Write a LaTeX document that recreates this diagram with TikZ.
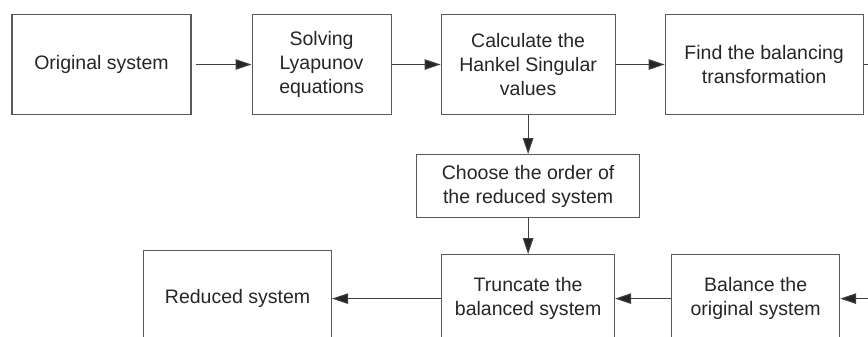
\documentclass[tikz,border=0pt]{standalone}
\usepackage{fontspec}
\setmainfont{Liberation Sans}
\usetikzlibrary{arrows.meta, positioning}

\begin{document}
\begin{tikzpicture}[
        node distance=1cm,
        block/.style={
          draw=black!65,
          line width=0.6pt,
          rectangle,
          minimum height=2cm,
          align=center,
          text=black!85,
          font=\fontsize{11.1}{13.6}\selectfont
        },
        lowblock/.style={
          block,
          minimum height=1.76cm
        },
        arrow/.style={-{Triangle[length=0.32cm, width=0.21cm, fill=black!85]}, draw=black!75, line width=0.6pt}
      ]

      \useasboundingbox (0,0) rectangle (17.36,-6.72);

      % Top row
      \node[block, minimum width=3.58cm] (original) at (2.03,-1.29) {Original system};
      \node[block, minimum width=2.78cm, right=1.2cm of original] (lyapunov) {Solving\\Lyapunov\\equations};
      \node[block, minimum width=3.48cm, right=0.98cm of lyapunov] (hankel) {Calculate the\\Hankel Singular\\values};
      \node[block, minimum width=3.96cm, right=0.98cm of hankel] (transform) {Find the balancing\\transformation};

      % Middle
      \node[block, minimum width=4.46cm, minimum height=1.26cm, below=0.78cm of hankel] (order) {Choose the order of\\the reduced system};

      % Bottom row
      \node[lowblock, minimum width=3.46cm, below=0.72cm of order] (truncate) {Truncate the\\balanced system};
      \node[lowblock, minimum width=3.36cm, right=1.12cm of truncate] (balance) {Balance the\\original system};
      \node[block, minimum width=3.76cm, minimum height=1.92cm, left=2.18cm of truncate] (reduced) {Reduced system};

      % Connections
      \draw[arrow, shorten <=0.08cm] (original) -- (lyapunov);
      \draw[arrow] (lyapunov) -- (hankel);
      \draw[arrow] (hankel) -- (transform);
      \draw[arrow] (hankel) -- (order);
      \draw[arrow] (order) -- (truncate);

      % Loop round the right side
      \coordinate[right=0.6cm of transform.east] (turn);
      \draw[arrow] (transform.east) -- (turn) |- (balance.east);

      \draw[arrow] (balance) -- (truncate);
      \draw[arrow] (truncate) -- (reduced);

    \end{tikzpicture}
\end{document}
